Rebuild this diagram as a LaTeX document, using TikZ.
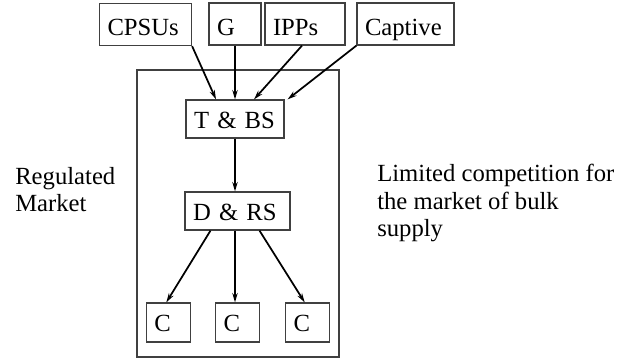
\documentclass[tikz,border=0pt]{standalone}
\usepackage{fontspec}
\setmainfont{Liberation Serif}
\usetikzlibrary{arrows.meta,positioning}

\begin{document}
\begin{tikzpicture}[x=0.75pt,y=-0.75pt,
		font=\fontsize{18.5}{20.7}\selectfont,
		% boxes of the supply chain, text sits at the left
		blk/.style={draw=black!75,line width=0.9pt,inner xsep=6pt,inner ysep=0pt,align=left,text width=#1,text height=14pt,text depth=0pt},
		top/.style={minimum height=31.5pt,text height=16.5pt},
		feed/.style={line width=1.3pt,-{Stealth[length=7pt,width=4pt]}},
		note/.style={anchor=north west,inner sep=0pt,align=left}]
	\useasboundingbox (0,0) rectangle (624,358);
	% the regulated part
	\node[draw=black!75,line width=0.9pt,minimum width=151.5pt,minimum height=215.25pt,inner sep=0pt] (mkt) at (238,213.5) {};
	% suppliers on top
	\node[blk=57pt,top] (cpsu) at (145.5,24.5) {CPSUs};
	\node[blk=27pt,top] (g) at (235,24) {G};
	\node[blk=48pt,top] (ipp) at (305,24) {IPPs};
	\node[blk=60.75pt,top] (capt) at (405.5,24) {Captive};
	% transmission, distribution and the consumers
	\node[blk=61.5pt,minimum height=28.5pt] (tbs) at (235,119) {T \& BS};
	\node[blk=66.75pt,minimum height=28.5pt] (drs) at (237.5,211) {D \& RS};
	\node[blk=21pt,minimum height=29.25pt] (c2) at (237.5,322.5) {C};
	\node[blk=21pt,minimum height=29.25pt,left=18pt of c2] (c1) {C};
	\node[blk=21pt,minimum height=29.25pt,right=18.75pt of c2] (c3) {C};
	% texts at the sides
	\node[note] (reg) at (15,167) {Regulated\\Market};
	\node[note] (lim) at (377,164) {Limited competition for\\the market of bulk\\supply};
	% flows
	\draw[feed] (cpsu.south east) -- ([xshift=-14.25pt]tbs.north);
	\draw[feed] (g.south) -- (tbs.north);
	\draw[feed] ([xshift=-2.25pt]ipp.south) -- ([xshift=14.25pt]tbs.north);
	\draw[feed] (capt.south west) -- ([xshift=2.25pt]tbs.north east);
	\draw[feed] (tbs.south) -- (tbs.south |- drs.north);
	\draw[feed] ([xshift=-20.25pt]drs.south) -- ([xshift=-1.5pt]c1.north);
	\draw[feed] ([xshift=-1.875pt]drs.south) -- ([xshift=-1.875pt]c2.north);
	\draw[feed] ([xshift=16.5pt]drs.south) -- ([xshift=-2.25pt]c3.north);
\end{tikzpicture}
\end{document}
